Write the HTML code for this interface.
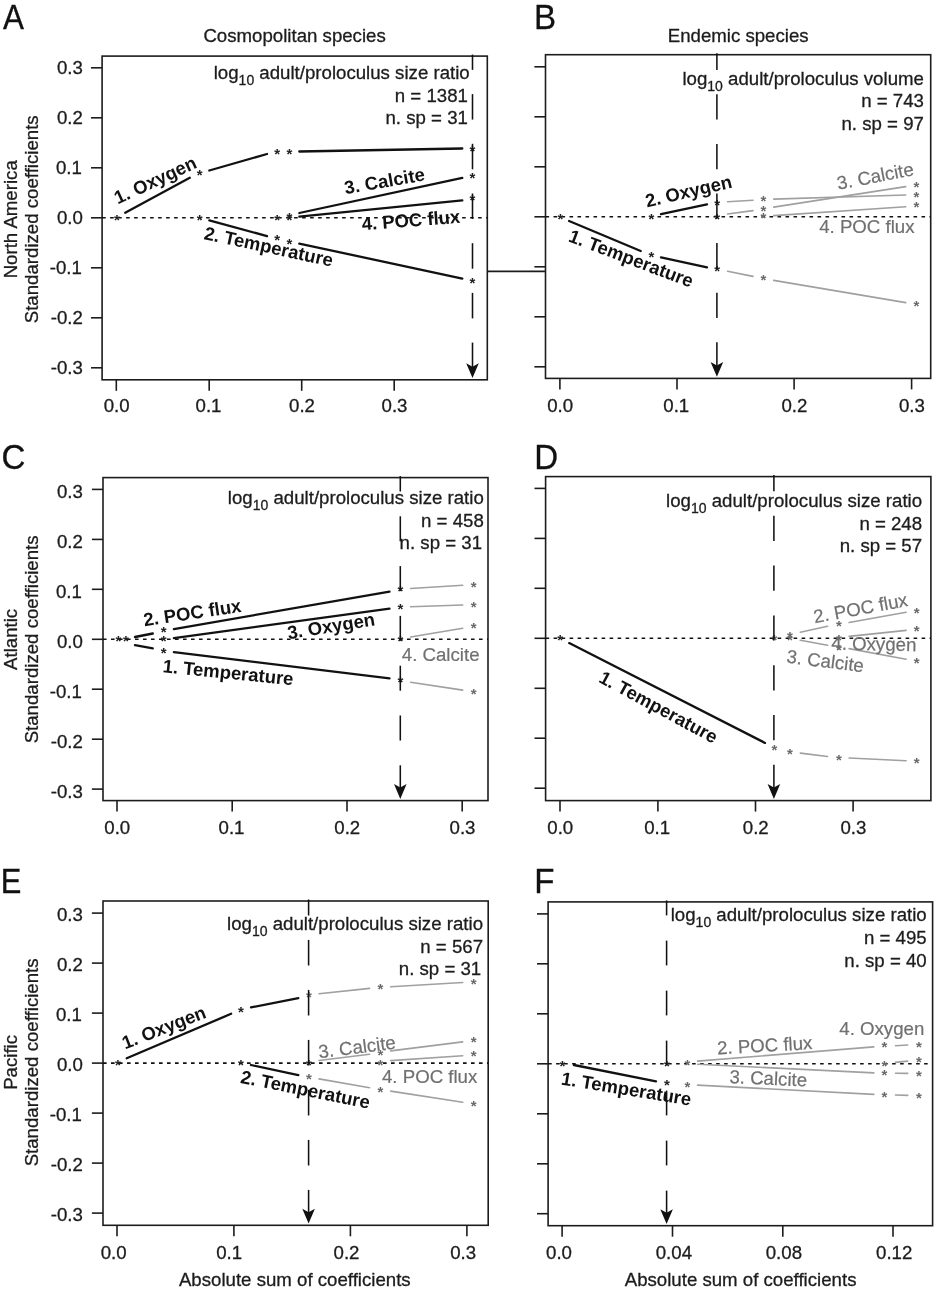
<!DOCTYPE html>
<html lang="en"><head><meta charset="utf-8"><title>Figure</title>
<style>html,body{margin:0;padding:0;background:#fff;}body{width:934px;height:1291px;overflow:hidden;}svg{display:block;}svg text{font-family:'Liberation Sans', Arial, Helvetica, sans-serif;}</style>
</head><body>
<svg width="934" height="1291" viewBox="0 0 934 1291">
<rect x="0" y="0" width="934" height="1291" fill="#ffffff"/>
<text x="294.6" y="41.9" font-size="18.65" fill="#1c1c1c" text-anchor="middle" stroke="#1c1c1c" stroke-width="0.3">Cosmopolitan species</text>
<text x="738.2" y="41.7" font-size="18.65" fill="#1c1c1c" text-anchor="middle" stroke="#1c1c1c" stroke-width="0.3">Endemic species</text>
<line x1="487.3" y1="271.4" x2="545.5" y2="271.4" stroke="#1c1c1c" stroke-width="1.6"/>
<rect x="102.1" y="56.1" width="385.2" height="323.7" fill="none" stroke="#1c1c1c" stroke-width="1.6"/>
<line x1="91.0" y1="67.8" x2="102.1" y2="67.8" stroke="#1c1c1c" stroke-width="1.6"/>
<text x="82.8" y="74.2" font-size="18.65" fill="#1c1c1c" text-anchor="end" stroke="#1c1c1c" stroke-width="0.3">0.3</text>
<line x1="91.0" y1="117.8" x2="102.1" y2="117.8" stroke="#1c1c1c" stroke-width="1.6"/>
<text x="82.8" y="124.2" font-size="18.65" fill="#1c1c1c" text-anchor="end" stroke="#1c1c1c" stroke-width="0.3">0.2</text>
<line x1="91.0" y1="167.8" x2="102.1" y2="167.8" stroke="#1c1c1c" stroke-width="1.6"/>
<text x="81.8" y="174.2" font-size="18.65" fill="#1c1c1c" text-anchor="end" stroke="#1c1c1c" stroke-width="0.3">0.1</text>
<line x1="91.0" y1="217.8" x2="102.1" y2="217.8" stroke="#1c1c1c" stroke-width="1.6"/>
<text x="82.8" y="224.2" font-size="18.65" fill="#1c1c1c" text-anchor="end" stroke="#1c1c1c" stroke-width="0.3">0.0</text>
<line x1="91.0" y1="267.8" x2="102.1" y2="267.8" stroke="#1c1c1c" stroke-width="1.6"/>
<text x="81.8" y="274.2" font-size="18.65" fill="#1c1c1c" text-anchor="end" stroke="#1c1c1c" stroke-width="0.3">-0.1</text>
<line x1="91.0" y1="317.8" x2="102.1" y2="317.8" stroke="#1c1c1c" stroke-width="1.6"/>
<text x="82.8" y="324.2" font-size="18.65" fill="#1c1c1c" text-anchor="end" stroke="#1c1c1c" stroke-width="0.3">-0.2</text>
<line x1="91.0" y1="367.8" x2="102.1" y2="367.8" stroke="#1c1c1c" stroke-width="1.6"/>
<text x="82.8" y="374.2" font-size="18.65" fill="#1c1c1c" text-anchor="end" stroke="#1c1c1c" stroke-width="0.3">-0.3</text>
<line x1="116.3" y1="379.8" x2="116.3" y2="390.8" stroke="#1c1c1c" stroke-width="1.6"/>
<text x="116.6" y="412.2" font-size="18.65" fill="#1c1c1c" text-anchor="middle" stroke="#1c1c1c" stroke-width="0.3">0.0</text>
<line x1="209.2" y1="379.8" x2="209.2" y2="390.8" stroke="#1c1c1c" stroke-width="1.6"/>
<text x="208.5" y="412.2" font-size="18.65" fill="#1c1c1c" text-anchor="middle" stroke="#1c1c1c" stroke-width="0.3">0.1</text>
<line x1="301.7" y1="379.8" x2="301.7" y2="390.8" stroke="#1c1c1c" stroke-width="1.6"/>
<text x="302.0" y="412.2" font-size="18.65" fill="#1c1c1c" text-anchor="middle" stroke="#1c1c1c" stroke-width="0.3">0.2</text>
<line x1="394.2" y1="379.8" x2="394.2" y2="390.8" stroke="#1c1c1c" stroke-width="1.6"/>
<text x="394.5" y="412.2" font-size="18.65" fill="#1c1c1c" text-anchor="middle" stroke="#1c1c1c" stroke-width="0.3">0.3</text>
<line x1="102.1" y1="217.8" x2="487.3" y2="217.8" stroke="#111" stroke-width="1.6" stroke-dasharray="3.6 4.4"/>
<line x1="125.2" y1="212.8" x2="189.8" y2="177.7" stroke="#111" stroke-width="2.3" stroke-linecap="round"/>
<line x1="209.3" y1="170.5" x2="267.0" y2="154.0" stroke="#111" stroke-width="2.3" stroke-linecap="round"/>
<line x1="299.3" y1="151.5" x2="462.3" y2="148.5" stroke="#111" stroke-width="2.3" stroke-linecap="round"/>
<line x1="299.3" y1="213.0" x2="462.3" y2="177.9" stroke="#111" stroke-width="2.3" stroke-linecap="round"/>
<line x1="299.3" y1="216.7" x2="462.3" y2="200.4" stroke="#111" stroke-width="2.3" stroke-linecap="round"/>
<line x1="209.3" y1="220.4" x2="267.0" y2="236.1" stroke="#111" stroke-width="2.3" stroke-linecap="round"/>
<line x1="299.3" y1="243.6" x2="462.3" y2="278.6" stroke="#111" stroke-width="2.3" stroke-linecap="round"/>
<text x="113.9" y="224.6" font-size="15.0" font-weight="bold" fill="#222">*</text>
<text x="196.8" y="224.6" font-size="15.0" font-weight="bold" fill="#222">*</text>
<text x="274.2" y="224.6" font-size="15.0" font-weight="bold" fill="#222">*</text>
<text x="286.6" y="224.6" font-size="15.0" font-weight="bold" fill="#222">*</text>
<text x="286.6" y="222.5" font-size="15.0" font-weight="bold" fill="#222">*</text>
<text x="196.8" y="179.7" font-size="15.0" font-weight="bold" fill="#222">*</text>
<text x="274.2" y="159.0" font-size="15.0" font-weight="bold" fill="#222">*</text>
<text x="286.6" y="158.5" font-size="15.0" font-weight="bold" fill="#222">*</text>
<text x="469.5" y="155.5" font-size="15.0" font-weight="bold" fill="#222">*</text>
<text x="469.5" y="182.7" font-size="15.0" font-weight="bold" fill="#222">*</text>
<text x="469.5" y="205.2" font-size="15.0" font-weight="bold" fill="#222">*</text>
<text x="274.2" y="245.3" font-size="15.0" font-weight="bold" fill="#222">*</text>
<text x="286.6" y="248.5" font-size="15.0" font-weight="bold" fill="#222">*</text>
<text x="469.6" y="288.2" font-size="15.0" font-weight="bold" fill="#222">*</text>
<line x1="472.5" y1="54.6" x2="472.5" y2="69.9" stroke="#111" stroke-width="1.55"/>
<line x1="472.5" y1="94.1" x2="472.5" y2="119.6" stroke="#111" stroke-width="1.55"/>
<line x1="472.5" y1="143.8" x2="472.5" y2="169.3" stroke="#111" stroke-width="1.55"/>
<line x1="472.5" y1="193.5" x2="472.5" y2="219.0" stroke="#111" stroke-width="1.55"/>
<line x1="472.5" y1="243.2" x2="472.5" y2="268.7" stroke="#111" stroke-width="1.55"/>
<line x1="472.5" y1="292.9" x2="472.5" y2="318.4" stroke="#111" stroke-width="1.55"/>
<line x1="472.5" y1="342.6" x2="472.5" y2="367.8" stroke="#111" stroke-width="1.55"/>
<path d="M472.5 378.1 L466.2 363.3 L472.5 366.8 L478.8 363.3 Z" fill="#111"/>
<text x="469.7" y="79.1" font-size="18.65" fill="#1c1c1c" stroke="#1c1c1c" stroke-width="0.3" text-anchor="end">log<tspan font-size="14" dy="6">10</tspan><tspan dy="-6"> adult/proloculus size ratio</tspan></text>
<text x="467.9" y="101.6" font-size="18.65" fill="#1c1c1c" text-anchor="end" stroke="#1c1c1c" stroke-width="0.3">n = 1381</text>
<text x="467.9" y="124.2" font-size="18.65" fill="#1c1c1c" text-anchor="end" stroke="#1c1c1c" stroke-width="0.3">n. sp = 31</text>
<text x="117.8" y="204.6" font-size="18.5" fill="#111" text-anchor="start" font-weight="bold" transform="rotate(-25 117.8 204.6)">1. Oxygen</text>
<text x="203.2" y="239.0" font-size="18.5" fill="#111" text-anchor="start" font-weight="bold" transform="rotate(12.2 203.2 239.0)">2. Temperature</text>
<text x="345.6" y="194.3" font-size="18.5" fill="#111" text-anchor="start" font-weight="bold" transform="rotate(-9.9 345.6 194.3)">3. Calcite</text>
<text x="362.2" y="230.2" font-size="18.5" fill="#111" text-anchor="start" font-weight="bold" transform="rotate(-4.3 362.2 230.2)">4. POC flux</text>
<text transform="translate(3.0 28.6) scale(0.915 1)" font-size="34.3" fill="#111" stroke="#111" stroke-width="0.3">A</text>
<rect x="545.5" y="54.7" width="385.2" height="323.7" fill="none" stroke="#1c1c1c" stroke-width="1.6"/>
<line x1="534.4" y1="66.8" x2="545.5" y2="66.8" stroke="#1c1c1c" stroke-width="1.6"/>
<line x1="534.4" y1="116.8" x2="545.5" y2="116.8" stroke="#1c1c1c" stroke-width="1.6"/>
<line x1="534.4" y1="166.8" x2="545.5" y2="166.8" stroke="#1c1c1c" stroke-width="1.6"/>
<line x1="534.4" y1="216.8" x2="545.5" y2="216.8" stroke="#1c1c1c" stroke-width="1.6"/>
<line x1="534.4" y1="266.8" x2="545.5" y2="266.8" stroke="#1c1c1c" stroke-width="1.6"/>
<line x1="534.4" y1="316.8" x2="545.5" y2="316.8" stroke="#1c1c1c" stroke-width="1.6"/>
<line x1="534.4" y1="366.8" x2="545.5" y2="366.8" stroke="#1c1c1c" stroke-width="1.6"/>
<line x1="559.9" y1="378.4" x2="559.9" y2="389.4" stroke="#1c1c1c" stroke-width="1.6"/>
<text x="560.2" y="411.8" font-size="18.65" fill="#1c1c1c" text-anchor="middle" stroke="#1c1c1c" stroke-width="0.3">0.0</text>
<line x1="677.0" y1="378.4" x2="677.0" y2="389.4" stroke="#1c1c1c" stroke-width="1.6"/>
<text x="676.3" y="411.8" font-size="18.65" fill="#1c1c1c" text-anchor="middle" stroke="#1c1c1c" stroke-width="0.3">0.1</text>
<line x1="794.1" y1="378.4" x2="794.1" y2="389.4" stroke="#1c1c1c" stroke-width="1.6"/>
<text x="794.4" y="411.8" font-size="18.65" fill="#1c1c1c" text-anchor="middle" stroke="#1c1c1c" stroke-width="0.3">0.2</text>
<line x1="911.6" y1="378.4" x2="911.6" y2="389.4" stroke="#1c1c1c" stroke-width="1.6"/>
<text x="911.9" y="411.8" font-size="18.65" fill="#1c1c1c" text-anchor="middle" stroke="#1c1c1c" stroke-width="0.3">0.3</text>
<line x1="545.5" y1="216.8" x2="930.7" y2="216.8" stroke="#111" stroke-width="1.6" stroke-dasharray="3.6 4.4"/>
<line x1="727.6" y1="201.8" x2="753.0" y2="200.3" stroke="#a0a0a0" stroke-width="1.6" stroke-linecap="round"/>
<line x1="727.6" y1="214.0" x2="753.0" y2="210.6" stroke="#a0a0a0" stroke-width="1.6" stroke-linecap="round"/>
<line x1="727.6" y1="271.3" x2="753.0" y2="276.4" stroke="#a0a0a0" stroke-width="1.6" stroke-linecap="round"/>
<line x1="773.7" y1="199.1" x2="905.7" y2="195.0" stroke="#a0a0a0" stroke-width="1.6" stroke-linecap="round"/>
<line x1="773.7" y1="207.1" x2="905.7" y2="186.6" stroke="#a0a0a0" stroke-width="1.6" stroke-linecap="round"/>
<line x1="773.7" y1="215.6" x2="905.7" y2="206.8" stroke="#a0a0a0" stroke-width="1.6" stroke-linecap="round"/>
<line x1="773.7" y1="280.4" x2="905.7" y2="302.6" stroke="#a0a0a0" stroke-width="1.6" stroke-linecap="round"/>
<line x1="569.1" y1="221.0" x2="640.7" y2="251.0" stroke="#111" stroke-width="2.3" stroke-linecap="round"/>
<line x1="661.0" y1="257.4" x2="707.0" y2="267.3" stroke="#111" stroke-width="2.3" stroke-linecap="round"/>
<line x1="661.0" y1="214.2" x2="707.0" y2="204.3" stroke="#111" stroke-width="2.3" stroke-linecap="round"/>
<text x="760.5" y="206.3" font-size="15.0" font-weight="bold" fill="#6a6a6a">*</text>
<text x="760.5" y="215.5" font-size="15.0" font-weight="bold" fill="#6a6a6a">*</text>
<text x="760.5" y="223.4" font-size="15.0" font-weight="bold" fill="#6a6a6a">*</text>
<text x="760.5" y="285.1" font-size="15.0" font-weight="bold" fill="#6a6a6a">*</text>
<text x="913.5" y="191.8" font-size="15.0" font-weight="bold" fill="#6a6a6a">*</text>
<text x="913.5" y="201.5" font-size="15.0" font-weight="bold" fill="#6a6a6a">*</text>
<text x="913.5" y="212.4" font-size="15.0" font-weight="bold" fill="#6a6a6a">*</text>
<text x="913.5" y="311.3" font-size="15.0" font-weight="bold" fill="#6a6a6a">*</text>
<text x="557.4" y="223.6" font-size="15.0" font-weight="bold" fill="#222">*</text>
<text x="648.4" y="223.6" font-size="15.0" font-weight="bold" fill="#222">*</text>
<text x="714.2" y="223.6" font-size="15.0" font-weight="bold" fill="#222">*</text>
<text x="648.4" y="262.1" font-size="15.0" font-weight="bold" fill="#222">*</text>
<text x="714.2" y="276.0" font-size="15.0" font-weight="bold" fill="#222">*</text>
<text x="714.2" y="209.6" font-size="15.0" font-weight="bold" fill="#222">*</text>
<line x1="716.9" y1="53.2" x2="716.9" y2="70.0" stroke="#111" stroke-width="1.55"/>
<line x1="716.9" y1="94.3" x2="716.9" y2="119.6" stroke="#111" stroke-width="1.55"/>
<line x1="716.9" y1="143.9" x2="716.9" y2="169.2" stroke="#111" stroke-width="1.55"/>
<line x1="716.9" y1="193.5" x2="716.9" y2="218.8" stroke="#111" stroke-width="1.55"/>
<line x1="716.9" y1="243.1" x2="716.9" y2="268.4" stroke="#111" stroke-width="1.55"/>
<line x1="716.9" y1="292.7" x2="716.9" y2="318.0" stroke="#111" stroke-width="1.55"/>
<line x1="716.9" y1="342.3" x2="716.9" y2="366.4" stroke="#111" stroke-width="1.55"/>
<path d="M716.9 376.7 L710.6 361.9 L716.9 365.4 L723.2 361.9 Z" fill="#111"/>
<text x="923.9" y="84.8" font-size="18.65" fill="#1c1c1c" stroke="#1c1c1c" stroke-width="0.3" text-anchor="end">log<tspan font-size="14" dy="6">10</tspan><tspan dy="-6"> adult/proloculus volume</tspan></text>
<text x="923.9" y="107.3" font-size="18.65" fill="#1c1c1c" text-anchor="end" stroke="#1c1c1c" stroke-width="0.3">n = 743</text>
<text x="923.9" y="129.9" font-size="18.65" fill="#1c1c1c" text-anchor="end" stroke="#1c1c1c" stroke-width="0.3">n. sp = 97</text>
<text x="647.0" y="207.4" font-size="18.5" fill="#111" text-anchor="start" font-weight="bold" transform="rotate(-13.1 647.0 207.4)">2. Oxygen</text>
<text x="567.6" y="241.1" font-size="18.5" fill="#111" text-anchor="start" font-weight="bold" transform="rotate(20.8 567.6 241.1)">1. Temperature</text>
<text x="838.3" y="189.8" font-size="18.65" fill="#707070" text-anchor="start" stroke="#707070" stroke-width="0.2" transform="rotate(-10.9 838.3 189.8)">3. Calcite</text>
<text x="819.2" y="232.5" font-size="18.65" fill="#707070" text-anchor="start" stroke="#707070" stroke-width="0.2" transform="rotate(0 819.2 232.5)">4. POC flux</text>
<text transform="translate(534.0 28.5) scale(0.965 1)" font-size="34.3" fill="#111" stroke="#111" stroke-width="0.3">B</text>
<rect x="103.0" y="477.6" width="385.0" height="323.0" fill="none" stroke="#1c1c1c" stroke-width="1.6"/>
<line x1="91.9" y1="489.4" x2="103.0" y2="489.4" stroke="#1c1c1c" stroke-width="1.6"/>
<text x="82.8" y="497.8" font-size="18.65" fill="#1c1c1c" text-anchor="end" stroke="#1c1c1c" stroke-width="0.3">0.3</text>
<line x1="91.9" y1="539.4" x2="103.0" y2="539.4" stroke="#1c1c1c" stroke-width="1.6"/>
<text x="82.8" y="547.8" font-size="18.65" fill="#1c1c1c" text-anchor="end" stroke="#1c1c1c" stroke-width="0.3">0.2</text>
<line x1="91.9" y1="589.3" x2="103.0" y2="589.3" stroke="#1c1c1c" stroke-width="1.6"/>
<text x="81.8" y="597.7" font-size="18.65" fill="#1c1c1c" text-anchor="end" stroke="#1c1c1c" stroke-width="0.3">0.1</text>
<line x1="91.9" y1="639.3" x2="103.0" y2="639.3" stroke="#1c1c1c" stroke-width="1.6"/>
<text x="82.8" y="647.7" font-size="18.65" fill="#1c1c1c" text-anchor="end" stroke="#1c1c1c" stroke-width="0.3">0.0</text>
<line x1="91.9" y1="689.2" x2="103.0" y2="689.2" stroke="#1c1c1c" stroke-width="1.6"/>
<text x="81.8" y="697.6" font-size="18.65" fill="#1c1c1c" text-anchor="end" stroke="#1c1c1c" stroke-width="0.3">-0.1</text>
<line x1="91.9" y1="739.2" x2="103.0" y2="739.2" stroke="#1c1c1c" stroke-width="1.6"/>
<text x="82.8" y="747.6" font-size="18.65" fill="#1c1c1c" text-anchor="end" stroke="#1c1c1c" stroke-width="0.3">-0.2</text>
<line x1="91.9" y1="789.1" x2="103.0" y2="789.1" stroke="#1c1c1c" stroke-width="1.6"/>
<text x="82.8" y="797.5" font-size="18.65" fill="#1c1c1c" text-anchor="end" stroke="#1c1c1c" stroke-width="0.3">-0.3</text>
<line x1="117.0" y1="800.6" x2="117.0" y2="811.6" stroke="#1c1c1c" stroke-width="1.6"/>
<text x="117.3" y="834.1" font-size="18.65" fill="#1c1c1c" text-anchor="middle" stroke="#1c1c1c" stroke-width="0.3">0.0</text>
<line x1="232.2" y1="800.6" x2="232.2" y2="811.6" stroke="#1c1c1c" stroke-width="1.6"/>
<text x="231.5" y="834.1" font-size="18.65" fill="#1c1c1c" text-anchor="middle" stroke="#1c1c1c" stroke-width="0.3">0.1</text>
<line x1="347.0" y1="800.6" x2="347.0" y2="811.6" stroke="#1c1c1c" stroke-width="1.6"/>
<text x="347.3" y="834.1" font-size="18.65" fill="#1c1c1c" text-anchor="middle" stroke="#1c1c1c" stroke-width="0.3">0.2</text>
<line x1="462.2" y1="800.6" x2="462.2" y2="811.6" stroke="#1c1c1c" stroke-width="1.6"/>
<text x="462.5" y="834.1" font-size="18.65" fill="#1c1c1c" text-anchor="middle" stroke="#1c1c1c" stroke-width="0.3">0.3</text>
<line x1="103.0" y1="639.3" x2="488.0" y2="639.3" stroke="#111" stroke-width="1.6" stroke-dasharray="3.6 4.4"/>
<line x1="410.6" y1="588.5" x2="462.7" y2="585.3" stroke="#a0a0a0" stroke-width="1.6" stroke-linecap="round"/>
<line x1="410.6" y1="606.7" x2="462.7" y2="605.0" stroke="#a0a0a0" stroke-width="1.6" stroke-linecap="round"/>
<line x1="410.6" y1="637.0" x2="462.7" y2="628.2" stroke="#a0a0a0" stroke-width="1.6" stroke-linecap="round"/>
<line x1="410.6" y1="682.2" x2="462.7" y2="690.1" stroke="#a0a0a0" stroke-width="1.6" stroke-linecap="round"/>
<line x1="135.0" y1="637.0" x2="152.8" y2="633.5" stroke="#111" stroke-width="2.3" stroke-linecap="round"/>
<line x1="135.0" y1="645.1" x2="152.8" y2="648.3" stroke="#111" stroke-width="2.3" stroke-linecap="round"/>
<line x1="173.9" y1="629.1" x2="389.5" y2="591.6" stroke="#111" stroke-width="2.3" stroke-linecap="round"/>
<line x1="173.9" y1="638.1" x2="389.5" y2="608.7" stroke="#111" stroke-width="2.3" stroke-linecap="round"/>
<line x1="173.9" y1="652.2" x2="389.5" y2="678.3" stroke="#111" stroke-width="2.3" stroke-linecap="round"/>
<text x="470.8" y="591.5" font-size="15.0" font-weight="bold" fill="#6a6a6a">*</text>
<text x="470.8" y="611.8" font-size="15.0" font-weight="bold" fill="#6a6a6a">*</text>
<text x="470.8" y="632.8" font-size="15.0" font-weight="bold" fill="#6a6a6a">*</text>
<text x="470.8" y="698.8" font-size="15.0" font-weight="bold" fill="#6a6a6a">*</text>
<text x="115.4" y="646.1" font-size="15.0" font-weight="bold" fill="#222">*</text>
<text x="122.9" y="646.1" font-size="15.0" font-weight="bold" fill="#222">*</text>
<text x="160.8" y="637.1" font-size="15.0" font-weight="bold" fill="#222">*</text>
<text x="160.8" y="646.1" font-size="15.0" font-weight="bold" fill="#222">*</text>
<text x="160.8" y="657.9" font-size="15.0" font-weight="bold" fill="#222">*</text>
<text x="397.4" y="596.4" font-size="15.0" font-weight="bold" fill="#222">*</text>
<text x="397.4" y="613.5" font-size="15.0" font-weight="bold" fill="#222">*</text>
<text x="397.4" y="646.1" font-size="15.0" font-weight="bold" fill="#222">*</text>
<text x="397.4" y="687.0" font-size="15.0" font-weight="bold" fill="#222">*</text>
<line x1="400.3" y1="476.1" x2="400.3" y2="491.5" stroke="#111" stroke-width="1.55"/>
<line x1="400.3" y1="516.3" x2="400.3" y2="541.3" stroke="#111" stroke-width="1.55"/>
<line x1="400.3" y1="566.1" x2="400.3" y2="591.1" stroke="#111" stroke-width="1.55"/>
<line x1="400.3" y1="615.9" x2="400.3" y2="640.9" stroke="#111" stroke-width="1.55"/>
<line x1="400.3" y1="665.7" x2="400.3" y2="690.7" stroke="#111" stroke-width="1.55"/>
<line x1="400.3" y1="715.5" x2="400.3" y2="740.5" stroke="#111" stroke-width="1.55"/>
<line x1="400.3" y1="765.3" x2="400.3" y2="788.6" stroke="#111" stroke-width="1.55"/>
<path d="M400.3 798.9 L394.0 784.1 L400.3 787.6 L406.6 784.1 Z" fill="#111"/>
<text x="483.8" y="504.1" font-size="18.65" fill="#1c1c1c" stroke="#1c1c1c" stroke-width="0.3" text-anchor="end">log<tspan font-size="14" dy="6">10</tspan><tspan dy="-6"> adult/proloculus size ratio</tspan></text>
<text x="483.8" y="526.6" font-size="18.65" fill="#1c1c1c" text-anchor="end" stroke="#1c1c1c" stroke-width="0.3">n = 458</text>
<text x="482.0" y="549.2" font-size="18.65" fill="#1c1c1c" text-anchor="end" stroke="#1c1c1c" stroke-width="0.3">n. sp = 31</text>
<text x="144.4" y="626.2" font-size="18.5" fill="#111" text-anchor="start" font-weight="bold" transform="rotate(-8.4 144.4 626.2)">2. POC flux</text>
<text x="288.4" y="639.2" font-size="18.5" fill="#111" text-anchor="start" font-weight="bold" transform="rotate(-9 288.4 639.2)">3. Oxygen</text>
<text x="162.2" y="672.3" font-size="18.5" fill="#111" text-anchor="start" font-weight="bold" transform="rotate(5.7 162.2 672.3)">1. Temperature</text>
<text x="401.8" y="660.6" font-size="18.65" fill="#707070" text-anchor="start" stroke="#707070" stroke-width="0.2" transform="rotate(0 401.8 660.6)">4. Calcite</text>
<text transform="translate(1.6 468.6) scale(0.965 1)" font-size="34.3" fill="#111" stroke="#111" stroke-width="0.3">C</text>
<rect x="545.6" y="476.6" width="385.3" height="324.0" fill="none" stroke="#1c1c1c" stroke-width="1.6"/>
<line x1="534.5" y1="488.4" x2="545.6" y2="488.4" stroke="#1c1c1c" stroke-width="1.6"/>
<line x1="534.5" y1="538.4" x2="545.6" y2="538.4" stroke="#1c1c1c" stroke-width="1.6"/>
<line x1="534.5" y1="588.3" x2="545.6" y2="588.3" stroke="#1c1c1c" stroke-width="1.6"/>
<line x1="534.5" y1="638.3" x2="545.6" y2="638.3" stroke="#1c1c1c" stroke-width="1.6"/>
<line x1="534.5" y1="688.3" x2="545.6" y2="688.3" stroke="#1c1c1c" stroke-width="1.6"/>
<line x1="534.5" y1="738.2" x2="545.6" y2="738.2" stroke="#1c1c1c" stroke-width="1.6"/>
<line x1="534.5" y1="788.2" x2="545.6" y2="788.2" stroke="#1c1c1c" stroke-width="1.6"/>
<line x1="560.0" y1="800.6" x2="560.0" y2="811.6" stroke="#1c1c1c" stroke-width="1.6"/>
<text x="560.3" y="834.1" font-size="18.65" fill="#1c1c1c" text-anchor="middle" stroke="#1c1c1c" stroke-width="0.3">0.0</text>
<line x1="657.9" y1="800.6" x2="657.9" y2="811.6" stroke="#1c1c1c" stroke-width="1.6"/>
<text x="657.2" y="834.1" font-size="18.65" fill="#1c1c1c" text-anchor="middle" stroke="#1c1c1c" stroke-width="0.3">0.1</text>
<line x1="755.5" y1="800.6" x2="755.5" y2="811.6" stroke="#1c1c1c" stroke-width="1.6"/>
<text x="755.8" y="834.1" font-size="18.65" fill="#1c1c1c" text-anchor="middle" stroke="#1c1c1c" stroke-width="0.3">0.2</text>
<line x1="853.1" y1="800.6" x2="853.1" y2="811.6" stroke="#1c1c1c" stroke-width="1.6"/>
<text x="853.4" y="834.1" font-size="18.65" fill="#1c1c1c" text-anchor="middle" stroke="#1c1c1c" stroke-width="0.3">0.3</text>
<line x1="545.6" y1="638.3" x2="930.9" y2="638.3" stroke="#111" stroke-width="1.6" stroke-dasharray="3.6 4.4"/>
<line x1="800.3" y1="632.2" x2="827.6" y2="626.2" stroke="#a0a0a0" stroke-width="1.6" stroke-linecap="round"/>
<line x1="849.1" y1="622.5" x2="906.1" y2="612.3" stroke="#a0a0a0" stroke-width="1.6" stroke-linecap="round"/>
<line x1="849.1" y1="636.4" x2="906.1" y2="630.4" stroke="#a0a0a0" stroke-width="1.6" stroke-linecap="round"/>
<line x1="800.3" y1="640.3" x2="827.6" y2="645.3" stroke="#a0a0a0" stroke-width="1.6" stroke-linecap="round"/>
<line x1="849.1" y1="648.6" x2="906.1" y2="659.3" stroke="#a0a0a0" stroke-width="1.6" stroke-linecap="round"/>
<line x1="800.3" y1="753.1" x2="827.6" y2="756.5" stroke="#a0a0a0" stroke-width="1.6" stroke-linecap="round"/>
<line x1="849.1" y1="758.0" x2="906.1" y2="760.7" stroke="#a0a0a0" stroke-width="1.6" stroke-linecap="round"/>
<line x1="569.2" y1="643.1" x2="765.0" y2="742.9" stroke="#111" stroke-width="2.3" stroke-linecap="round"/>
<text x="771.4" y="754.7" font-size="15.0" font-weight="bold" fill="#6a6a6a">*</text>
<text x="771.4" y="645.1" font-size="15.0" font-weight="bold" fill="#6a6a6a">*</text>
<text x="787.0" y="641.9" font-size="15.0" font-weight="bold" fill="#6a6a6a">*</text>
<text x="787.0" y="645.0" font-size="15.0" font-weight="bold" fill="#6a6a6a">*</text>
<text x="787.0" y="758.9" font-size="15.0" font-weight="bold" fill="#6a6a6a">*</text>
<text x="835.9" y="630.7" font-size="15.0" font-weight="bold" fill="#6a6a6a">*</text>
<text x="835.9" y="644.6" font-size="15.0" font-weight="bold" fill="#6a6a6a">*</text>
<text x="835.9" y="654.5" font-size="15.0" font-weight="bold" fill="#6a6a6a">*</text>
<text x="835.9" y="764.7" font-size="15.0" font-weight="bold" fill="#6a6a6a">*</text>
<text x="913.8" y="617.6" font-size="15.0" font-weight="bold" fill="#6a6a6a">*</text>
<text x="913.8" y="636.3" font-size="15.0" font-weight="bold" fill="#6a6a6a">*</text>
<text x="913.8" y="668.1" font-size="15.0" font-weight="bold" fill="#6a6a6a">*</text>
<text x="913.8" y="767.6" font-size="15.0" font-weight="bold" fill="#6a6a6a">*</text>
<text x="557.2" y="645.1" font-size="15.0" font-weight="bold" fill="#222">*</text>
<line x1="773.9" y1="475.1" x2="773.9" y2="491.2" stroke="#111" stroke-width="1.55"/>
<line x1="773.9" y1="515.8" x2="773.9" y2="541.0" stroke="#111" stroke-width="1.55"/>
<line x1="773.9" y1="565.6" x2="773.9" y2="590.8" stroke="#111" stroke-width="1.55"/>
<line x1="773.9" y1="615.4" x2="773.9" y2="640.6" stroke="#111" stroke-width="1.55"/>
<line x1="773.9" y1="665.2" x2="773.9" y2="690.4" stroke="#111" stroke-width="1.55"/>
<line x1="773.9" y1="715.0" x2="773.9" y2="740.2" stroke="#111" stroke-width="1.55"/>
<line x1="773.9" y1="764.8" x2="773.9" y2="788.6" stroke="#111" stroke-width="1.55"/>
<path d="M773.9 798.9 L767.6 784.1 L773.9 787.6 L780.2 784.1 Z" fill="#111"/>
<text x="922.1" y="507.3" font-size="18.65" fill="#1c1c1c" stroke="#1c1c1c" stroke-width="0.3" text-anchor="end">log<tspan font-size="14" dy="6">10</tspan><tspan dy="-6"> adult/proloculus size ratio</tspan></text>
<text x="922.1" y="529.9" font-size="18.65" fill="#1c1c1c" text-anchor="end" stroke="#1c1c1c" stroke-width="0.3">n = 248</text>
<text x="922.1" y="552.4" font-size="18.65" fill="#1c1c1c" text-anchor="end" stroke="#1c1c1c" stroke-width="0.3">n. sp = 57</text>
<text x="597.8" y="681.6" font-size="18.5" fill="#111" text-anchor="start" font-weight="bold" transform="rotate(28.3 597.8 681.6)">1. Temperature</text>
<text x="814.8" y="623.2" font-size="18.65" fill="#707070" text-anchor="start" stroke="#707070" stroke-width="0.2" transform="rotate(-10.5 814.8 623.2)">2. POC flux</text>
<text x="831.3" y="649.6" font-size="18.65" fill="#707070" text-anchor="start" stroke="#707070" stroke-width="0.2" transform="rotate(1.0 831.3 649.6)">4. Oxygen</text>
<text x="786.0" y="662.6" font-size="18.65" fill="#707070" text-anchor="start" stroke="#707070" stroke-width="0.2" transform="rotate(7.1 786.0 662.6)">3. Calcite</text>
<text transform="translate(534.2 468.8) scale(0.965 1)" font-size="34.3" fill="#111" stroke="#111" stroke-width="0.3">D</text>
<rect x="103.0" y="901.0" width="385.2" height="324.3" fill="none" stroke="#1c1c1c" stroke-width="1.6"/>
<line x1="91.9" y1="913.1" x2="103.0" y2="913.1" stroke="#1c1c1c" stroke-width="1.6"/>
<text x="82.8" y="920.7" font-size="18.65" fill="#1c1c1c" text-anchor="end" stroke="#1c1c1c" stroke-width="0.3">0.3</text>
<line x1="91.9" y1="963.1" x2="103.0" y2="963.1" stroke="#1c1c1c" stroke-width="1.6"/>
<text x="82.8" y="970.7" font-size="18.65" fill="#1c1c1c" text-anchor="end" stroke="#1c1c1c" stroke-width="0.3">0.2</text>
<line x1="91.9" y1="1013.1" x2="103.0" y2="1013.1" stroke="#1c1c1c" stroke-width="1.6"/>
<text x="81.8" y="1020.7" font-size="18.65" fill="#1c1c1c" text-anchor="end" stroke="#1c1c1c" stroke-width="0.3">0.1</text>
<line x1="91.9" y1="1063.1" x2="103.0" y2="1063.1" stroke="#1c1c1c" stroke-width="1.6"/>
<text x="82.8" y="1070.7" font-size="18.65" fill="#1c1c1c" text-anchor="end" stroke="#1c1c1c" stroke-width="0.3">0.0</text>
<line x1="91.9" y1="1113.1" x2="103.0" y2="1113.1" stroke="#1c1c1c" stroke-width="1.6"/>
<text x="81.8" y="1120.7" font-size="18.65" fill="#1c1c1c" text-anchor="end" stroke="#1c1c1c" stroke-width="0.3">-0.1</text>
<line x1="91.9" y1="1163.1" x2="103.0" y2="1163.1" stroke="#1c1c1c" stroke-width="1.6"/>
<text x="82.8" y="1170.7" font-size="18.65" fill="#1c1c1c" text-anchor="end" stroke="#1c1c1c" stroke-width="0.3">-0.2</text>
<line x1="91.9" y1="1213.1" x2="103.0" y2="1213.1" stroke="#1c1c1c" stroke-width="1.6"/>
<text x="82.8" y="1220.7" font-size="18.65" fill="#1c1c1c" text-anchor="end" stroke="#1c1c1c" stroke-width="0.3">-0.3</text>
<line x1="117.0" y1="1225.3" x2="117.0" y2="1236.3" stroke="#1c1c1c" stroke-width="1.6"/>
<text x="113.6" y="1259.1" font-size="18.65" fill="#1c1c1c" text-anchor="middle" stroke="#1c1c1c" stroke-width="0.3">0.0</text>
<line x1="233.9" y1="1225.3" x2="233.9" y2="1236.3" stroke="#1c1c1c" stroke-width="1.6"/>
<text x="229.1" y="1259.1" font-size="18.65" fill="#1c1c1c" text-anchor="middle" stroke="#1c1c1c" stroke-width="0.3">0.1</text>
<line x1="350.4" y1="1225.3" x2="350.4" y2="1236.3" stroke="#1c1c1c" stroke-width="1.6"/>
<text x="346.5" y="1259.1" font-size="18.65" fill="#1c1c1c" text-anchor="middle" stroke="#1c1c1c" stroke-width="0.3">0.2</text>
<line x1="466.9" y1="1225.3" x2="466.9" y2="1236.3" stroke="#1c1c1c" stroke-width="1.6"/>
<text x="463.2" y="1259.1" font-size="18.65" fill="#1c1c1c" text-anchor="middle" stroke="#1c1c1c" stroke-width="0.3">0.3</text>
<line x1="103.0" y1="1063.1" x2="488.2" y2="1063.1" stroke="#111" stroke-width="1.6" stroke-dasharray="3.6 4.4"/>
<line x1="319.0" y1="993.7" x2="369.6" y2="988.4" stroke="#a0a0a0" stroke-width="1.6" stroke-linecap="round"/>
<line x1="390.7" y1="986.8" x2="462.7" y2="982.5" stroke="#a0a0a0" stroke-width="1.6" stroke-linecap="round"/>
<line x1="319.0" y1="1060.5" x2="369.6" y2="1054.3" stroke="#a0a0a0" stroke-width="1.6" stroke-linecap="round"/>
<line x1="390.7" y1="1050.9" x2="462.7" y2="1041.9" stroke="#a0a0a0" stroke-width="1.6" stroke-linecap="round"/>
<line x1="390.7" y1="1060.6" x2="462.7" y2="1055.7" stroke="#a0a0a0" stroke-width="1.6" stroke-linecap="round"/>
<line x1="319.0" y1="1078.9" x2="369.6" y2="1087.7" stroke="#a0a0a0" stroke-width="1.6" stroke-linecap="round"/>
<line x1="390.7" y1="1091.1" x2="462.7" y2="1102.3" stroke="#a0a0a0" stroke-width="1.6" stroke-linecap="round"/>
<line x1="126.7" y1="1058.2" x2="231.1" y2="1013.8" stroke="#111" stroke-width="2.3" stroke-linecap="round"/>
<line x1="251.0" y1="1007.4" x2="298.3" y2="998.2" stroke="#111" stroke-width="2.3" stroke-linecap="round"/>
<line x1="251.0" y1="1065.0" x2="298.3" y2="1075.1" stroke="#111" stroke-width="2.3" stroke-linecap="round"/>
<text x="305.9" y="1001.8" font-size="15.0" font-weight="bold" fill="#6a6a6a">*</text>
<text x="305.9" y="1084.2" font-size="15.0" font-weight="bold" fill="#6a6a6a">*</text>
<text x="377.5" y="994.3" font-size="15.0" font-weight="bold" fill="#6a6a6a">*</text>
<text x="377.5" y="1059.6" font-size="15.0" font-weight="bold" fill="#6a6a6a">*</text>
<text x="377.5" y="1069.9" font-size="15.0" font-weight="bold" fill="#6a6a6a">*</text>
<text x="377.5" y="1096.6" font-size="15.0" font-weight="bold" fill="#6a6a6a">*</text>
<text x="470.8" y="988.5" font-size="15.0" font-weight="bold" fill="#6a6a6a">*</text>
<text x="470.8" y="1047.2" font-size="15.0" font-weight="bold" fill="#6a6a6a">*</text>
<text x="470.8" y="1061.3" font-size="15.0" font-weight="bold" fill="#6a6a6a">*</text>
<text x="470.8" y="1110.5" font-size="15.0" font-weight="bold" fill="#6a6a6a">*</text>
<text x="115.0" y="1069.9" font-size="15.0" font-weight="bold" fill="#222">*</text>
<text x="238.1" y="1016.8" font-size="15.0" font-weight="bold" fill="#222">*</text>
<text x="238.1" y="1069.9" font-size="15.0" font-weight="bold" fill="#222">*</text>
<text x="305.9" y="1069.9" font-size="15.0" font-weight="bold" fill="#222">*</text>
<line x1="308.6" y1="899.5" x2="308.6" y2="915.5" stroke="#111" stroke-width="1.55"/>
<line x1="308.6" y1="939.9" x2="308.6" y2="965.5" stroke="#111" stroke-width="1.55"/>
<line x1="308.6" y1="989.9" x2="308.6" y2="1015.5" stroke="#111" stroke-width="1.55"/>
<line x1="308.6" y1="1039.9" x2="308.6" y2="1065.5" stroke="#111" stroke-width="1.55"/>
<line x1="308.6" y1="1089.9" x2="308.6" y2="1115.5" stroke="#111" stroke-width="1.55"/>
<line x1="308.6" y1="1139.9" x2="308.6" y2="1165.5" stroke="#111" stroke-width="1.55"/>
<line x1="308.6" y1="1189.9" x2="308.6" y2="1213.3" stroke="#111" stroke-width="1.55"/>
<path d="M308.6 1223.6 L302.3 1208.8 L308.6 1212.3 L314.9 1208.8 Z" fill="#111"/>
<text x="483.0" y="930.1" font-size="18.65" fill="#1c1c1c" stroke="#1c1c1c" stroke-width="0.3" text-anchor="end">log<tspan font-size="14" dy="6">10</tspan><tspan dy="-6"> adult/proloculus size ratio</tspan></text>
<text x="483.0" y="952.6" font-size="18.65" fill="#1c1c1c" text-anchor="end" stroke="#1c1c1c" stroke-width="0.3">n = 567</text>
<text x="481.2" y="975.2" font-size="18.65" fill="#1c1c1c" text-anchor="end" stroke="#1c1c1c" stroke-width="0.3">n. sp = 31</text>
<text x="125.0" y="1049.4" font-size="18.5" fill="#111" text-anchor="start" font-weight="bold" transform="rotate(-21.3 125.0 1049.4)">1. Oxygen</text>
<text x="239.8" y="1082.8" font-size="18.5" fill="#111" text-anchor="start" font-weight="bold" transform="rotate(11.4 239.8 1082.8)">2. Temperature</text>
<text x="319.3" y="1058.3" font-size="18.65" fill="#707070" text-anchor="start" stroke="#707070" stroke-width="0.2" transform="rotate(-7.2 319.3 1058.3)">3. Calcite</text>
<text x="382.0" y="1083.1" font-size="18.65" fill="#707070" text-anchor="start" stroke="#707070" stroke-width="0.2" transform="rotate(0 382.0 1083.1)">4. POC flux</text>
<text transform="translate(0.8 893.0) scale(0.9 1)" font-size="34.3" fill="#111" stroke="#111" stroke-width="0.3">E</text>
<rect x="548.1" y="901.9" width="384.5" height="323.8" fill="none" stroke="#1c1c1c" stroke-width="1.6"/>
<line x1="537.0" y1="913.9" x2="548.1" y2="913.9" stroke="#1c1c1c" stroke-width="1.6"/>
<line x1="537.0" y1="963.8" x2="548.1" y2="963.8" stroke="#1c1c1c" stroke-width="1.6"/>
<line x1="537.0" y1="1013.8" x2="548.1" y2="1013.8" stroke="#1c1c1c" stroke-width="1.6"/>
<line x1="537.0" y1="1063.8" x2="548.1" y2="1063.8" stroke="#1c1c1c" stroke-width="1.6"/>
<line x1="537.0" y1="1113.8" x2="548.1" y2="1113.8" stroke="#1c1c1c" stroke-width="1.6"/>
<line x1="537.0" y1="1163.8" x2="548.1" y2="1163.8" stroke="#1c1c1c" stroke-width="1.6"/>
<line x1="537.0" y1="1213.7" x2="548.1" y2="1213.7" stroke="#1c1c1c" stroke-width="1.6"/>
<line x1="562.1" y1="1225.7" x2="562.1" y2="1236.7" stroke="#1c1c1c" stroke-width="1.6"/>
<text x="559.0" y="1258.6" font-size="18.65" fill="#1c1c1c" text-anchor="middle" stroke="#1c1c1c" stroke-width="0.3">0.0</text>
<line x1="672.5" y1="1225.7" x2="672.5" y2="1236.7" stroke="#1c1c1c" stroke-width="1.6"/>
<text x="673.9" y="1258.6" font-size="18.65" fill="#1c1c1c" text-anchor="middle" stroke="#1c1c1c" stroke-width="0.3">0.04</text>
<line x1="782.8" y1="1225.7" x2="782.8" y2="1236.7" stroke="#1c1c1c" stroke-width="1.6"/>
<text x="783.9" y="1258.6" font-size="18.65" fill="#1c1c1c" text-anchor="middle" stroke="#1c1c1c" stroke-width="0.3">0.08</text>
<line x1="893.0" y1="1225.7" x2="893.0" y2="1236.7" stroke="#1c1c1c" stroke-width="1.6"/>
<text x="894.2" y="1258.6" font-size="18.65" fill="#1c1c1c" text-anchor="middle" stroke="#1c1c1c" stroke-width="0.3">0.12</text>
<line x1="548.1" y1="1063.8" x2="932.6" y2="1063.8" stroke="#111" stroke-width="1.6" stroke-dasharray="3.6 4.4"/>
<line x1="697.6" y1="1061.1" x2="873.8" y2="1046.9" stroke="#a0a0a0" stroke-width="1.6" stroke-linecap="round"/>
<line x1="697.6" y1="1064.2" x2="873.8" y2="1072.9" stroke="#a0a0a0" stroke-width="1.6" stroke-linecap="round"/>
<line x1="697.6" y1="1085.1" x2="873.8" y2="1094.4" stroke="#a0a0a0" stroke-width="1.6" stroke-linecap="round"/>
<line x1="895.5" y1="1045.7" x2="907.7" y2="1045.0" stroke="#a0a0a0" stroke-width="1.6" stroke-linecap="round"/>
<line x1="895.5" y1="1062.4" x2="907.7" y2="1061.1" stroke="#a0a0a0" stroke-width="1.6" stroke-linecap="round"/>
<line x1="895.5" y1="1073.2" x2="907.7" y2="1073.4" stroke="#a0a0a0" stroke-width="1.6" stroke-linecap="round"/>
<line x1="895.5" y1="1095.0" x2="907.7" y2="1095.4" stroke="#a0a0a0" stroke-width="1.6" stroke-linecap="round"/>
<line x1="573.9" y1="1065.0" x2="656.0" y2="1081.3" stroke="#111" stroke-width="2.3" stroke-linecap="round"/>
<text x="684.4" y="1069.6" font-size="15.0" font-weight="bold" fill="#6a6a6a">*</text>
<text x="684.4" y="1091.5" font-size="15.0" font-weight="bold" fill="#6a6a6a">*</text>
<text x="881.6" y="1052.4" font-size="15.0" font-weight="bold" fill="#6a6a6a">*</text>
<text x="881.6" y="1070.5" font-size="15.0" font-weight="bold" fill="#6a6a6a">*</text>
<text x="881.6" y="1080.4" font-size="15.0" font-weight="bold" fill="#6a6a6a">*</text>
<text x="881.6" y="1101.9" font-size="15.0" font-weight="bold" fill="#6a6a6a">*</text>
<text x="915.9" y="1051.8" font-size="15.0" font-weight="bold" fill="#6a6a6a">*</text>
<text x="915.9" y="1067.3" font-size="15.0" font-weight="bold" fill="#6a6a6a">*</text>
<text x="915.9" y="1080.9" font-size="15.0" font-weight="bold" fill="#6a6a6a">*</text>
<text x="915.9" y="1103.2" font-size="15.0" font-weight="bold" fill="#6a6a6a">*</text>
<text x="559.6" y="1070.6" font-size="15.0" font-weight="bold" fill="#222">*</text>
<text x="663.9" y="1089.5" font-size="15.0" font-weight="bold" fill="#222">*</text>
<text x="663.9" y="1070.6" font-size="15.0" font-weight="bold" fill="#222">*</text>
<line x1="666.6" y1="900.4" x2="666.6" y2="915.4" stroke="#111" stroke-width="1.55"/>
<line x1="666.6" y1="940.6" x2="666.6" y2="965.4" stroke="#111" stroke-width="1.55"/>
<line x1="666.6" y1="990.6" x2="666.6" y2="1015.4" stroke="#111" stroke-width="1.55"/>
<line x1="666.6" y1="1040.6" x2="666.6" y2="1065.4" stroke="#111" stroke-width="1.55"/>
<line x1="666.6" y1="1090.6" x2="666.6" y2="1115.4" stroke="#111" stroke-width="1.55"/>
<line x1="666.6" y1="1140.6" x2="666.6" y2="1165.4" stroke="#111" stroke-width="1.55"/>
<line x1="666.6" y1="1190.6" x2="666.6" y2="1213.7" stroke="#111" stroke-width="1.55"/>
<path d="M666.6 1224.0 L660.3 1209.2 L666.6 1212.7 L672.9 1209.2 Z" fill="#111"/>
<text x="926.7" y="921.4" font-size="18.65" fill="#1c1c1c" stroke="#1c1c1c" stroke-width="0.3" text-anchor="end">log<tspan font-size="14" dy="6">10</tspan><tspan dy="-6"> adult/proloculus size ratio</tspan></text>
<text x="926.7" y="943.9" font-size="18.65" fill="#1c1c1c" text-anchor="end" stroke="#1c1c1c" stroke-width="0.3">n = 495</text>
<text x="926.7" y="966.5" font-size="18.65" fill="#1c1c1c" text-anchor="end" stroke="#1c1c1c" stroke-width="0.3">n. sp = 40</text>
<text x="560.5" y="1084.4" font-size="18.5" fill="#111" text-anchor="start" font-weight="bold" transform="rotate(9.3 560.5 1084.4)">1. Temperature</text>
<text x="717.5" y="1054.4" font-size="18.65" fill="#707070" text-anchor="start" stroke="#707070" stroke-width="0.2" transform="rotate(-3.2 717.5 1054.4)">2. POC flux</text>
<text x="839.3" y="1035.4" font-size="18.65" fill="#707070" text-anchor="start" stroke="#707070" stroke-width="0.2" transform="rotate(0 839.3 1035.4)">4. Oxygen</text>
<text x="729.2" y="1083.0" font-size="18.65" fill="#707070" text-anchor="start" stroke="#707070" stroke-width="0.2" transform="rotate(2.6 729.2 1083.0)">3. Calcite</text>
<text transform="translate(534.3 892.5) scale(0.965 1)" font-size="34.3" fill="#111" stroke="#111" stroke-width="0.3">F</text>
<text x="17.3" y="219.3" font-size="18.65" fill="#1c1c1c" stroke="#1c1c1c" stroke-width="0.3" text-anchor="middle" transform="rotate(-90 17.3 219.3)">North America</text>
<text x="38.5" y="219.3" font-size="18.65" fill="#1c1c1c" stroke="#1c1c1c" stroke-width="0.3" text-anchor="middle" transform="rotate(-90 38.5 219.3)">Standardized coefficients</text>
<text x="17.3" y="639.4" font-size="18.65" fill="#1c1c1c" stroke="#1c1c1c" stroke-width="0.3" text-anchor="middle" transform="rotate(-90 17.3 639.4)">Atlantic</text>
<text x="38.5" y="639.4" font-size="18.65" fill="#1c1c1c" stroke="#1c1c1c" stroke-width="0.3" text-anchor="middle" transform="rotate(-90 38.5 639.4)">Standardized coefficients</text>
<text x="17.3" y="1062.4" font-size="18.65" fill="#1c1c1c" stroke="#1c1c1c" stroke-width="0.3" text-anchor="middle" transform="rotate(-90 17.3 1062.4)">Pacific</text>
<text x="38.5" y="1062.4" font-size="18.65" fill="#1c1c1c" stroke="#1c1c1c" stroke-width="0.3" text-anchor="middle" transform="rotate(-90 38.5 1062.4)">Standardized coefficients</text>
<text x="294.8" y="1285.7" font-size="18.65" fill="#1c1c1c" text-anchor="middle" stroke="#1c1c1c" stroke-width="0.3">Absolute sum of coefficients</text>
<text x="740.6" y="1285.9" font-size="18.65" fill="#1c1c1c" text-anchor="middle" stroke="#1c1c1c" stroke-width="0.3">Absolute sum of coefficients</text>
</svg></body></html>
